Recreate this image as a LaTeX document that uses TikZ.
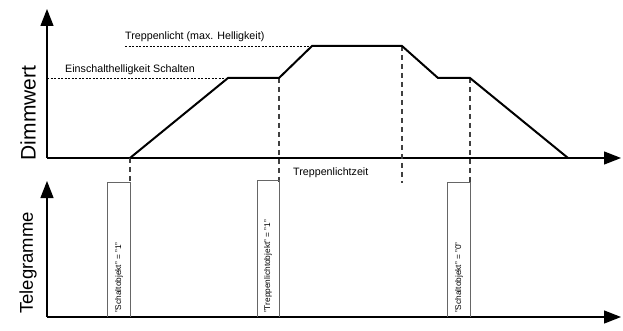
\documentclass[tikz,border=0pt]{standalone}
\usepackage{fontspec}
\setmainfont{Liberation Sans}
\usetikzlibrary{arrows.meta}
\begin{document}
\begin{tikzpicture}[x=1pt,y=-1pt,
  axis/.style={line width=1.3pt,-{Triangle[length=17pt,width=13pt]}},
  curve/.style={line width=2pt,line join=miter},
  helper/.style={line width=0.6pt,dash pattern=on 2pt off 1.5pt},
  marker/.style={line width=1.2pt,black!75,dash pattern=on 5pt off 4pt},
  pulse/.style={line width=0.8pt,black!60},
  lbl/.style={font=\fontsize{10.7}{12}\selectfont,inner sep=0pt},
  big/.style={font=\fontsize{18.5}{21}\selectfont,inner sep=0pt,rotate=90},
  tlbl/.style={font=\fontsize{8.3}{10}\selectfont,inner sep=0pt,rotate=90}]
\useasboundingbox (0,0) rectangle (623,331);
% coordinates
\coordinate (o1) at (47,158);
\coordinate (y1) at (47,9);
\coordinate (x1) at (621,158);
\coordinate (o2) at (47,317);
\coordinate (y2) at (47,181);
\coordinate (x2) at (621,317);
\coordinate (p0) at (130,158);
\coordinate (p1) at (228,78);
\coordinate (p2) at (279,78);
\coordinate (p3) at (312,46);
\coordinate (p4) at (402,46);
\coordinate (p5) at (438,78);
\coordinate (p6) at (470,78);
\coordinate (p7) at (568,158);
\coordinate (h1) at (47,78);
\coordinate (h2) at (125,46);
\coordinate (d0) at (130,182);
\coordinate (d2) at (279,182);
\coordinate (d4) at (402,183);
\coordinate (d6) at (470,182);
% axes
\draw[axis] (o1) -- (y1);
\draw[axis] (o1) -- (x1);
\draw[axis] (o2) -- (y2);
\draw[axis] (o2) -- (x2);
% helper lines
\draw[helper] (h1) -- (p1);
\draw[helper] (h2) -- (p3);
% markers
\draw[marker] (p0) -- (d0);
\draw[marker] (p2) -- (d2);
\draw[marker] (p4) -- (d4);
\draw[marker] (p6) -- (d6);
% curve
\draw[curve] (p0) -- (p1) -- (p2) -- (p3) -- (p4) -- (p5) -- (p6) -- (p7);
% pulses
\draw[pulse] (107,317) |- (130,182) -- (130,317);
\draw[pulse] (257,317) |- (279,180) -- (279,317);
\draw[pulse] (447,317) |- (470,182) -- (470,317);
% labels
\node[lbl,anchor=west] (l1) at (65,70) {Einschalthelligkeit Schalten};
\node[lbl,anchor=west] (l2) at (125,37) {Treppenlicht (max. Helligkeit)};
\node[lbl,anchor=west] (l3) at (293,173) {Treppenlichtzeit};
\node[big,font=\fontsize{21}{24}\selectfont] (dim) at (28,113) {Dimmwert};
\node[big] (tel) at (28,263) {Telegramme};
\node[tlbl,anchor=west] (t1) at (119,313) {"Schaltobjekt" = "1"};
\node[tlbl,anchor=west] (t2) at (268,313) {"Treppenlichtobjekt" = "1"};
\node[tlbl,anchor=west] (t3) at (459,313) {"Schaltobjekt" = "0"};
\end{tikzpicture}
\end{document}
